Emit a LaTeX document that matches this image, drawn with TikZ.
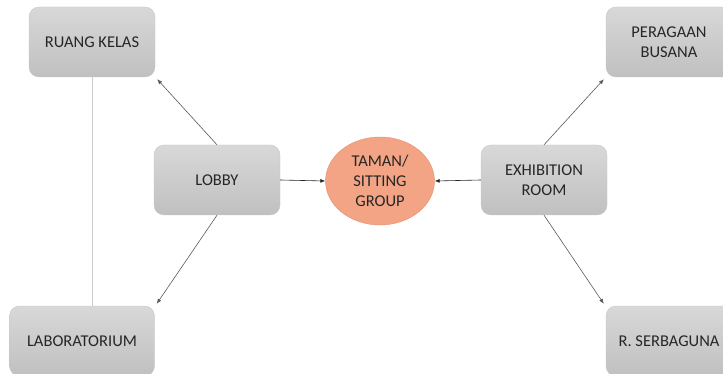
\documentclass[tikz,border=0pt]{standalone}
\usepackage{fontspec}
\setmainfont{Carlito}
\usetikzlibrary{arrows.meta, positioning, calc, shapes.geometric}

\definecolor{boxtop}{RGB}{216,216,216}
\definecolor{boxbot}{RGB}{192,192,192}
\definecolor{salmon}{RGB}{243,164,132}
\definecolor{salmonedge}{RGB}{226,146,116}

\begin{document}
\begin{tikzpicture}[
  x=1pt, y=-1pt,
  room/.style = {draw=black!22, rounded corners=10pt, top color=boxtop, bottom color=boxbot,
                 minimum height=70pt, minimum width=126pt, align=center,
                 font=\fontsize{16.5}{20}\selectfont, text=black!85},
  hub/.style = {ellipse, draw=salmonedge, fill=salmon, minimum width=109pt, minimum height=88pt,
                align=center, font=\fontsize{16.5}{20}\selectfont, text=black!85, inner sep=0pt},
  arrow/.style = {draw=black!65, line width=0.6pt, -{Latex[length=5pt,width=4pt]}},
  link/.style = {draw=black!20, line width=0.6pt}
]
  \useasboundingbox (0,0) rectangle (723,374);

  % Central garden
  \node[hub] (taman) at (380,181) {TAMAN/\\SITTING\\GROUP};

  % Left wing
  \node[room] (lobby) at (217,180) {LOBBY};
  \node[room] (kelas) at (92,42) {RUANG KELAS};
  \node[room, minimum width=145pt] (lab) at (82,341) {LABORATORIUM};

  % Right wing
  \node[room] (exhibit) at (544,180) {EXHIBITION\\ROOM};
  \node[room] (busana) at (669,42) {PERAGAAN\\BUSANA};
  \node[room] (serba) at (669,341) {R. SERBAGUNA};

  \draw[link] (kelas.south) -- (kelas.south |- lab.north);

  \draw[arrow, draw=black!85] (lobby.east) -- (taman.west);
  \draw[arrow, draw=black!85] (exhibit.west) -- (taman.east);

  \draw[arrow] (lobby.north) -- ($(kelas.south east)+(2,2)$);
  \draw[arrow] (lobby.south) -- ($(lab.north east)+(2,-2)$);
  \draw[arrow] (exhibit.north) -- ($(busana.south west)+(-2,2)$);
  \draw[arrow] (exhibit.south) -- ($(serba.north west)+(-2,-2)$);

\end{tikzpicture}
\end{document}
